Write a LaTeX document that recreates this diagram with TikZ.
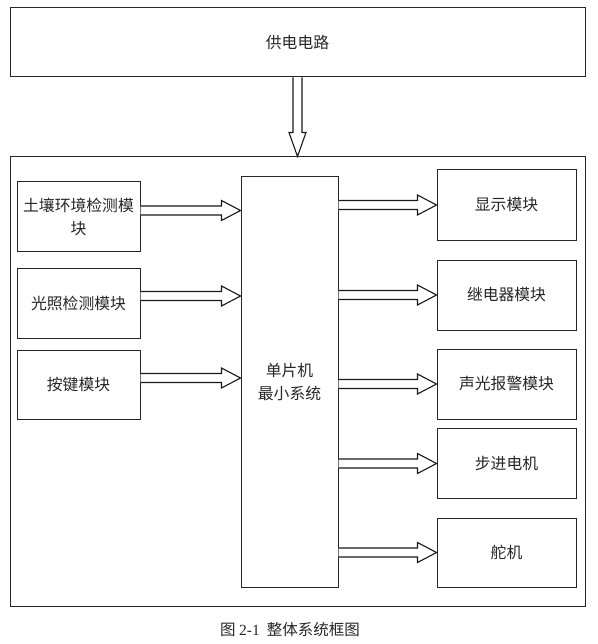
\documentclass[tikz,border=0pt]{standalone}
\usepackage{fontspec}
\setmainfont{Noto Sans CJK SC}
\newfontfamily\latinserif{Liberation Serif}
\usetikzlibrary{calc}
\tikzset{
  box/.style={draw=black!85, line width=1pt, align=center, inner sep=0pt,
    font=\fontsize{15.8}{23}\selectfont, text=black!85},
  hol/.style={draw=black!90, line width=1.1pt, fill=white, line join=miter},
}
\newcommand{\harr}[3]{%
  \draw[hol] let \p1=($(#1)+(0,#3)$), \p2=(#2) in
    (\x1,\y1+4.5pt) -- (\x2-19pt,\y1+4.5pt) -- (\x2-19pt,\y1+10pt) -- (\x2,\y1)
    -- (\x2-19pt,\y1-10pt) -- (\x2-19pt,\y1-4.5pt) -- (\x1,\y1-4.5pt);}
\begin{document}
\begin{tikzpicture}[x=1pt,y=1pt]
\useasboundingbox (0,0) rectangle (597,-644);
\node[box, minimum width=575pt, minimum height=69pt] (top) at (297.5,-42.5) {供电电路};
\node[box, minimum width=575pt, minimum height=449pt] (big) at (297.5,-381.5) {};
\node[box, minimum width=123pt, minimum height=69pt, text width=118pt] (l1) at (78.5,-216.5) {土壤环境检测模\\块};
\node[box, minimum width=123pt, minimum height=70pt] (l2) at (78.5,-303) {光照检测模块};
\node[box, minimum width=123pt, minimum height=69pt] (l3) at (78.5,-384.5) {按键模块};
\node[box, minimum width=97pt, minimum height=410pt] (mcu) at (289.5,-382) {单片机\\最小系统};
\node[box, minimum width=139pt, minimum height=70pt] (r1) at (506.5,-205) {显示模块};
\node[box, minimum width=139pt, minimum height=70pt] (r2) at (506.5,-295) {继电器模块};
\node[box, minimum width=139pt, minimum height=70pt] (r3) at (506.5,-384) {声光报警模块};
\node[box, minimum width=139pt, minimum height=70pt] (r4) at (506.5,-463.5) {步进电机};
\node[box, minimum width=139pt, minimum height=69pt] (r5) at (506.5,-552.5) {舵机};
\node[font=\fontsize{15.5}{17}\selectfont, text=black!85] (cap) at (290,-630) {图 {\latinserif 2-1} \ 整体系统框图};
% vertical hollow arrow
\draw[hol] let \p1=(top.south), \p2=(big.north) in
  (\x1-4.5pt,\y1) -- (\x1-4.5pt,\y2+24pt) -- (\x1-8.5pt,\y2+24pt) -- (\x1,\y2)
  -- (\x1+8.5pt,\y2+24pt) -- (\x1+4.5pt,\y2+24pt) -- (\x1+4.5pt,\y1);
% left arrows
\harr{l1.east}{mcu.west}{6pt}
\harr{l2.east}{mcu.west}{7pt}
\harr{l3.east}{mcu.west}{6.5pt}
% right arrows
\harr{mcu.east |- r1.west}{r1.west}{0pt}
\harr{mcu.east |- r2.west}{r2.west}{0pt}
\harr{mcu.east |- r3.west}{r3.west}{0pt}
\harr{mcu.east |- r4.west}{r4.west}{0pt}
\harr{mcu.east |- r5.west}{r5.west}{0pt}
\end{tikzpicture}
\end{document}
